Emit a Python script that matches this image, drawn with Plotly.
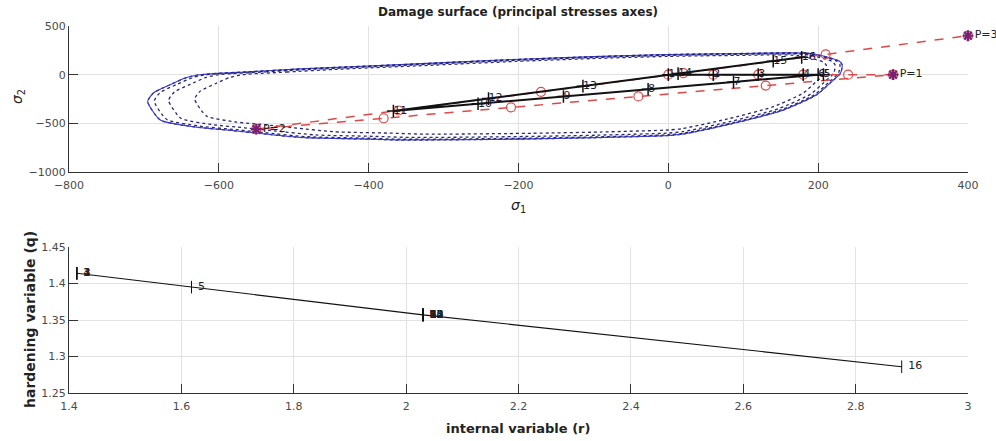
import plotly.graph_objects as go

# ---------------- data ----------------
# outer damage surface (q0), principal stress plane
surf_s1 = [-625, -560, -491, -358, -224, -100, 0, 100, 160, 190, 216, 228, 232, 230, 216, 198,
           154, 87, 20, 0, -100, -200, -358, -411, -491, -545, -589, -634, -678, -695, -687,
           -665, -643, -625]
surf_s2 = [0, 30, 59, 103, 150, 185, 207, 218, 224, 217, 172, 140, 103, 17, -86, -207,
           -362, -500, -610, -625, -648, -662, -672, -660, -645, -604, -569, -535, -466, -276, -186,
           -103, -30, 0]
# hardening values of the drawn surfaces (outer first)
surface_q = [1.414, 1.396, 1.357, 1.286]

# effective (applied) stress path
eff_s1 = [0, 60, 120, 180, 240, 300, 130, -40, -210, -380, -550, -360, -170, 20, 210, 400]
eff_s2 = [0, 0, 0, 0, 0, 0, -112, -224, -336, -448, -560, -368, -176, 16, 208, 400]
p_idx = [5, 10, 15]
p_labels = ["P=1", "P=2", "P=3"]

# actual stress path
st_s1 = [0, 60, 120, 180, 207, 200, 87, -27, -140, -254, -367, -240, -114, 13, 140, 178]
st_s2 = [0, 0, 0, 0, 0, 0, -75, -150, -224, -299, -374, -246, -118, 11, 139, 178]
step_labels = [str(i) for i in range(1, 17)]

# internal variable r and hardening variable q
r_vals = [1.414, 1.414, 1.414, 1.414, 1.618, 2.03, 2.03, 2.03, 2.03, 2.03, 2.03, 2.03, 2.03,
          2.03, 2.03, 2.882]
q_vals = [1.414, 1.414, 1.414, 1.414, 1.395, 1.357, 1.357, 1.357, 1.357, 1.357, 1.357, 1.357,
          1.357, 1.357, 1.357, 1.286]

FONT = "DejaVu Sans"
fig = go.Figure()

# damage surfaces
q0 = surface_q[0]
for k, q in enumerate(surface_q):
    f = q / q0
    xs = [v * f for v in surf_s1]
    ys = [v * f for v in surf_s2]
    fig.add_trace(go.Scatter(x=xs, y=ys, mode="lines",
                             line=dict(color="#26267a", width=1.3, dash="dot",
                                       shape="spline", smoothing=0.6),
                             xaxis="x", yaxis="y", hoverinfo="skip"))
    if k == 0:
        fig.add_trace(go.Scatter(x=xs, y=ys, mode="lines",
                                 line=dict(color="#3a3ad0", width=1.1,
                                           shape="spline", smoothing=0.6),
                                 xaxis="x", yaxis="y", hoverinfo="skip"))

# effective stress path (red dashed)
fig.add_trace(go.Scatter(x=eff_s1, y=eff_s2, mode="lines+markers",
                         line=dict(color="#e04848", width=1.5, dash="dash"),
                         marker=dict(symbol="circle-open", size=9, color="#e04848",
                                     line=dict(width=1.2, color="#e04848")),
                         cliponaxis=False, xaxis="x", yaxis="y"))
fig.add_trace(go.Scatter(x=[eff_s1[i] for i in p_idx], y=[eff_s2[i] for i in p_idx],
                         mode="markers+text", text=p_labels, textposition="middle right",
                         textfont=dict(family=FONT, size=11, color="#222"),
                         marker=dict(symbol="asterisk-open", size=9, color="#7a2070",
                                     line=dict(width=2.2, color="#7a2070")),
                         cliponaxis=False, xaxis="x", yaxis="y"))

# actual stress path (black)
fig.add_trace(go.Scatter(x=st_s1, y=st_s2, mode="lines+markers",
                         line=dict(color="#111", width=2),
                         marker=dict(symbol="cross-thin", size=9, color="#111",
                                     line=dict(width=1.5, color="#111")),
                         xaxis="x", yaxis="y"))
fig.add_trace(go.Scatter(x=st_s1, y=st_s2, mode="text", text=step_labels,
                         textposition="middle right",
                         textfont=dict(family=FONT, size=11, color="#1a1a3a"),
                         xaxis="x", yaxis="y"))

# hardening plot
fig.add_trace(go.Scatter(x=r_vals, y=q_vals, mode="lines+markers+text", text=step_labels,
                         textposition="middle right",
                         textfont=dict(family=FONT, size=11, color="#222"),
                         line=dict(color="#111", width=1.1),
                         marker=dict(symbol="line-ns", size=9, color="#111",
                                     line=dict(width=1, color="#111")),
                         xaxis="x2", yaxis="y2"))

axis_common = dict(showline=True, linecolor="#333", linewidth=1.2, ticks="inside",
                   ticklen=9, tickcolor="#333", tickwidth=1, showgrid=True,
                   gridcolor="#e2e2e2", gridwidth=1, zeroline=False, mirror=False,
                   automargin=False,
                   tickfont=dict(family=FONT, size=11, color="#4a4a4a"))

xd = [69 / 996, 968 / 996]
fig.update_layout(
    width=996, height=441, margin=dict(l=0, r=0, t=0, b=0),
    paper_bgcolor="white", plot_bgcolor="white", showlegend=False,
    xaxis=dict(domain=xd, range=[-800, 400], tickvals=[-800, -600, -400, -200, 0, 200, 400],
               anchor="y", ticklabelstandoff=3, **axis_common),
    yaxis=dict(domain=[(441 - 172) / 441, (441 - 26) / 441], range=[-1000, 500],
               tickvals=[-1000, -500, 0, 500], anchor="x", **axis_common),
    xaxis2=dict(domain=xd, range=[1.4, 3], dtick=0.2, tick0=1.4, anchor="y2",
                ticklabelstandoff=3, **axis_common),
    yaxis2=dict(domain=[(441 - 393) / 441, (441 - 247) / 441], range=[1.25, 1.45],
                dtick=0.05, tick0=1.25, anchor="x2", **axis_common),
)

def ann(text, x, y, size, bold=False, angle=0):
    fig.add_annotation(text=("<b>%s</b>" % text) if bold else text,
                       x=x / 996, y=(441 - y) / 441, xref="paper", yref="paper",
                       showarrow=False, textangle=angle, xanchor="center", yanchor="middle",
                       font=dict(family=FONT, size=size, color="#222"))

ann("Damage surface (principal stresses axes)", 518, 12, 12, bold=True)
ann("<i>σ</i><sub>1</sub>", 518, 206, 14)
ann("<i>σ</i><sub>2</sub>", 18, 97, 14, angle=-90)
ann("internal variable (r)", 518, 428, 13, bold=True)
ann("hardening variable (q)", 30, 320, 14, bold=True, angle=-90)

fig.write_html("out.html")
